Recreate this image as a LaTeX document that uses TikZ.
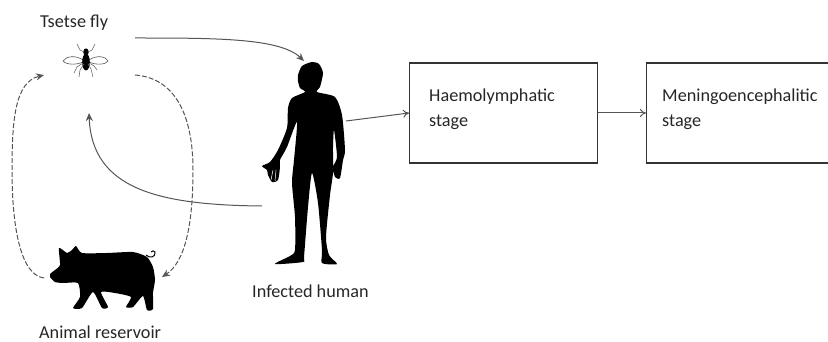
\documentclass[tikz,border=0pt]{standalone}
\usepackage{fontspec}
\setmainfont{Carlito}
\usetikzlibrary{arrows.meta}
\definecolor{lin}{HTML}{555555}
\tikzset{
  lab/.style={font=\fontsize{18.2}{22}\selectfont,text=black!85,inner sep=0pt},
  stagebox/.style={draw=black!80,line width=1.3pt,minimum width=188pt,minimum height=100pt,inner sep=0pt},
  solidarrow/.style={draw=lin,line width=1pt,-{Stealth[length=8pt,width=7pt]}},
  openarrow/.style={draw=lin,line width=1pt,-{To[length=6pt,width=8pt]}},
  dasharrow/.style={draw=lin,line width=1pt,dash pattern=on 5pt off 2pt,-{Stealth[length=8pt,width=7pt]}},
  sil/.style={fill=black,draw=none}
}
\begin{document}
\begin{tikzpicture}[x=1pt,y=-1pt]
\useasboundingbox (0,0) rectangle (828,342);
\node[lab,anchor=base west] (fly) at (40,28) {Tsetse fly};
\node[lab,anchor=base west] (res) at (39,338.5) {Animal reservoir};
\node[lab,anchor=base west] (hum) at (252,297) {Infected human};
\node[stagebox,anchor=north west] (b1) at (409,62.5) {};
\node[stagebox,anchor=north west,minimum width=190pt] (b2) at (646,62.5) {};
\node[lab,anchor=base west] (t1) at (429,102) {Haemolymphatic};
\node[lab,anchor=base west] (t1b) at (429,127) {stage};
\node[lab,anchor=base west] (t2) at (662,102) {Meningoencephalitic};
\node[lab,anchor=base west] (t2b) at (662,127) {stage};
\coordinate (flyE) at (135,38);
\coordinate (humT) at (304,61);
\coordinate (humR) at (346,121);
\coordinate (humL) at (262,206);
\coordinate (flyB) at (89,113);
\coordinate (flyL) at (44,75);
\coordinate (flyR) at (135,75);
\coordinate (pigL) at (44,278);
\coordinate (pigR) at (162,277);
\draw[solidarrow] (flyE) .. controls (215,38) and (280,38) .. (humT);
\draw[openarrow] (humR) -- (b1.west|-0,113);
\draw[openarrow] (b1.east|-0,113) -- (b2.west|-0,113);
\draw[solidarrow] (humL) .. controls (160,205) and (92,190) .. (flyB);
\draw[dasharrow] (pigL) .. controls (20,275) and (12,225) .. (12,170) .. controls (12,120) and (15,82) .. (flyL);
\draw[dasharrow] (flyR) .. controls (175,78) and (193,115) .. (193,170) .. controls (193,225) and (185,262) .. (pigR);
% fly
\begin{scope}[shift={(86,60)}]
 \draw[black!65,line width=.6pt,fill=white] (-3,0) .. controls (-10,-5) and (-20,-4) .. (-23,1) .. controls (-20,5) and (-9,5) .. (-3,2) -- cycle;
 \draw[black!65,line width=.6pt,fill=white] (3,0) .. controls (10,-5) and (20,-4) .. (22,1) .. controls (20,5) and (9,5) .. (3,2) -- cycle;
 \fill[black] (0,-8) ellipse (2.8 and 3.6);
 \fill[black] (0,2) ellipse (3.8 and 8.5);
 \draw[black!60,line width=.6pt] (-2,-8) -- (-6,-10) -- (-9,-16) (2,-8) -- (6,-10) -- (9,-16)
   (-3,3) -- (-9,7) -- (-12,13) (-2,4) -- (-6,10) -- (-7,17) (3,3) -- (8,6) -- (11,10) (2,4) -- (5,9) -- (7,17);
\end{scope}
% pig
\fill[sil] plot[smooth cycle,tension=.35] coordinates {(50,274) (55,270) (60,265) (59,248) (67,253) (72,250) (76,246) (82,253) (107,253) (133,252) (147,257) (153,267) (155,280) (153,293) (153,309) (147,310) (143,296) (133,307) (126,307) (131,297) (115,293) (101,292) (108,307) (102,308) (93,292) (82,308) (73,308) (80,297) (78,283) (63,283) (55,282) (50,277)};
\draw[black,line width=1pt] (146,255) .. controls (150,259) and (156,257) .. (155,252) .. controls (154,250) and (152,251) .. (151,252);
% human
\fill[sil] plot[smooth cycle,tension=.4] coordinates {(312,62) (319,64) (323,73) (320,87) (317,92) (335,97) (342,115) (345,150) (343,160) (340,178) (335,177) (333,167) (337,157) (334,130) (333,147) (333,173) (330,195) (326,237) (329,255) (337,264) (322,263) (322,250) (318,203) (312,173) (308,207) (304,257) (303,262) (275,264) (290,256) (295,250) (295,217) (292,183) (294,160) (297,122) (287,147) (280,160) (280,167) (278,180) (272,182) (268,175) (267,170) (262,166) (270,162) (278,150) (287,128) (288,108) (292,98) (305,92) (300,88) (298,81) (298,75) (302,66)};
\draw[white,line width=.5pt] (273,170) -- (271,180) (276,170) -- (275,181);
\end{tikzpicture}
\end{document}
